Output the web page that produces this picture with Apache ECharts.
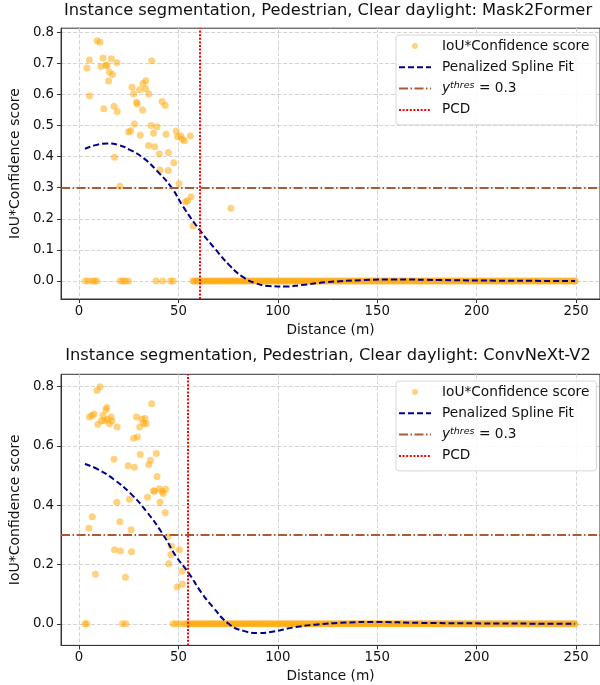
<!DOCTYPE html>
<html>
<head>
<meta charset="utf-8">
<script src="https://cdn.jsdelivr.net/npm/echarts@6/dist/echarts.min.js"></script>
<style>
  html, body { margin: 0; padding: 0; background: #fff; }
  #main { width: 600px; height: 685px; }
</style>
</head>
<body>
<div id="main"></div>
<script>
// ---- data ----
const xTicks = [0, 50, 100, 150, 200, 250];
const yTicksTop = [0.0, 0.1, 0.2, 0.3, 0.4, 0.5, 0.6, 0.7, 0.8];
const yTicksBottom = [0.0, 0.2, 0.4, 0.6, 0.8];
const thres = 0.3;

// Mask2Former: [distance, IoU*confidence]
const m2fScores = [
  [9.1, 0.773], [10.6, 0.768], [5.2, 0.711], [4.0, 0.685], [12.1, 0.717], [11.0, 0.690],
  [13.6, 0.694], [14.1, 0.693], [16.3, 0.715], [19.1, 0.702], [15.3, 0.672], [16.9, 0.664],
  [14.9, 0.643], [36.6, 0.708], [5.3, 0.596], [12.5, 0.554], [17.6, 0.562], [19.2, 0.545],
  [26.7, 0.623], [27.5, 0.601], [29.0, 0.575], [29.3, 0.569], [32.0, 0.550], [30.5, 0.615],
  [32.2, 0.635], [33.6, 0.644], [33.5, 0.618], [35.1, 0.601], [41.8, 0.577], [43.4, 0.564],
  [27.9, 0.505], [25.0, 0.479], [26.0, 0.483], [30.8, 0.469], [36.3, 0.500], [39.3, 0.496],
  [37.5, 0.475], [43.8, 0.472], [48.9, 0.482], [49.5, 0.464], [51.2, 0.466], [52.0, 0.456],
  [53.0, 0.451], [56.0, 0.466], [35.0, 0.436], [38.1, 0.432], [40.4, 0.408], [45.0, 0.413],
  [17.9, 0.398], [47.7, 0.380], [40.7, 0.357], [44.9, 0.355], [20.6, 0.305], [50.3, 0.313],
  [56.4, 0.271], [54.6, 0.258], [53.6, 0.255], [76.4, 0.234], [57.4, 0.177]
];
const m2fZeroDist = [
  3.2, 4.7, 6.8, 7.8, 9.0, 20.8, 22.0, 23.3, 24.9, 38.8, 42.1, 46.0, 47.4, 57.3,
  58, 59, 60, 61, 62, 63, 64, 65, 66, 67, 68, 69, 70, 71, 72, 73, 74, 75, 76, 77, 78, 79,
  80, 81, 82, 83, 84, 85, 86, 87, 88, 89, 90, 91, 92, 93, 94, 95, 96, 97, 98, 99,
  100, 101, 102, 103, 104, 105, 106, 107, 108, 109, 110, 111, 112, 113, 114, 115, 116, 117, 118, 119,
  120, 121, 122, 123, 124, 125, 126, 127, 128, 129, 130, 131, 132, 133, 134, 135, 136, 137, 138, 139,
  140, 141, 142, 143, 144, 145, 146, 147, 148, 149, 150, 151, 152, 153, 154, 155, 156, 157, 158, 159,
  160, 161, 162, 163, 164, 165, 166, 167, 168, 169, 170, 171, 172, 173, 174, 175, 176, 177, 178, 179,
  180, 181, 182, 183, 184, 185, 186, 187, 188, 189, 190, 191, 192, 193, 194, 195, 196, 197, 198, 199,
  200, 201, 202, 203, 204, 205, 206, 207, 208, 209, 210, 211, 212, 213, 214, 215, 216, 217, 218, 219,
  220, 221, 222, 223, 224, 225, 226, 227, 228, 229, 230, 231, 232, 233, 234, 235, 236, 237, 238, 239,
  240, 241, 242, 243, 244, 245, 246, 247, 248, 249, 249.5
];
const m2fSpline = [
  [3.0, 0.425], [8.5, 0.437], [14.3, 0.442], [19.5, 0.438], [25.9, 0.421], [32.5, 0.395],
  [39.1, 0.355], [46.6, 0.300], [52.4, 0.239], [60.7, 0.164], [68.9, 0.100], [75.6, 0.051],
  [82.2, 0.014], [88.8, -0.007], [95.4, -0.016], [103.7, -0.018], [112.0, -0.013], [124.5, -0.004],
  [143.5, 0.003], [158.7, 0.005], [181.6, 0.003], [210.0, 0.001], [249.5, 0.0]
];
const m2fPcd = 60.7;

// ConvNeXt-V2
const cnxScores = [
  [9.1, 0.787], [10.6, 0.800], [5.3, 0.698], [6.5, 0.703], [7.6, 0.708], [9.5, 0.673],
  [11.3, 0.685], [12.1, 0.704], [13.6, 0.722], [14.0, 0.730], [12.8, 0.685], [14.3, 0.690],
  [16.1, 0.698], [15.3, 0.675], [16.6, 0.684], [19.2, 0.664], [36.6, 0.743], [28.9, 0.698],
  [31.6, 0.691], [33.3, 0.693], [32.5, 0.677], [33.8, 0.675], [30.5, 0.664], [27.5, 0.626],
  [29.4, 0.630], [30.8, 0.571], [17.6, 0.555], [38.9, 0.575], [36.0, 0.552], [35.1, 0.537],
  [24.7, 0.533], [27.9, 0.528], [39.3, 0.497], [37.5, 0.449], [38.0, 0.447], [40.4, 0.456],
  [42.3, 0.440], [43.6, 0.454], [41.8, 0.447], [34.5, 0.427], [19.1, 0.410], [25.4, 0.420],
  [40.8, 0.410], [43.4, 0.375], [6.7, 0.361], [20.6, 0.344], [5.0, 0.322], [26.2, 0.317],
  [44.8, 0.294], [46.5, 0.262], [50.5, 0.250], [17.9, 0.250], [20.9, 0.246], [26.4, 0.243],
  [46.2, 0.233], [45.1, 0.203], [51.9, 0.177], [8.3, 0.167], [23.4, 0.157], [52.0, 0.134],
  [49.4, 0.124]
];
const cnxZeroDist = [
  3.0, 4.0, 21.9, 23.6, 47.3, 48.8, 50.5, 52.5,
  54, 55, 56, 57, 58, 59, 60, 61, 62, 63, 64, 65, 66, 67, 68, 69, 70, 71, 72, 73, 74, 75, 76, 77, 78, 79,
  80, 81, 82, 83, 84, 85, 86, 87, 88, 89, 90, 91, 92, 93, 94, 95, 96, 97, 98, 99,
  100, 101, 102, 103, 104, 105, 106, 107, 108, 109, 110, 111, 112, 113, 114, 115, 116, 117, 118, 119,
  120, 121, 122, 123, 124, 125, 126, 127, 128, 129, 130, 131, 132, 133, 134, 135, 136, 137, 138, 139,
  140, 141, 142, 143, 144, 145, 146, 147, 148, 149, 150, 151, 152, 153, 154, 155, 156, 157, 158, 159,
  160, 161, 162, 163, 164, 165, 166, 167, 168, 169, 170, 171, 172, 173, 174, 175, 176, 177, 178, 179,
  180, 181, 182, 183, 184, 185, 186, 187, 188, 189, 190, 191, 192, 193, 194, 195, 196, 197, 198, 199,
  200, 201, 202, 203, 204, 205, 206, 207, 208, 209, 210, 211, 212, 213, 214, 215, 216, 217, 218, 219,
  220, 221, 222, 223, 224, 225, 226, 227, 228, 229, 230, 231, 232, 233, 234, 235, 236, 237, 238, 239,
  240, 241, 242, 243, 244, 245, 246, 247, 248, 249, 249.5
];
const cnxSpline = [
  [3.0, 0.539], [9.3, 0.522], [17.6, 0.487], [25.9, 0.440], [34.1, 0.378], [42.4, 0.300],
  [49.0, 0.226], [54.9, 0.174], [61.8, 0.103], [67.3, 0.057], [75.1, 0.001], [82.7, -0.024],
  [90.3, -0.031], [97.9, -0.026], [107.4, -0.013], [118.8, -0.003], [134.0, 0.004], [149.2, 0.006],
  [172.0, 0.003], [210.0, 0.001], [249.5, 0.0]
];
const cnxPcd = 54.9;

// ---- chart ----
const FONT = 'DejaVu Sans';
const NAME_SCORE = 'IoU*Confidence score';
const NAME_SPLINE = 'Penalized Spline Fit';
const NAME_THRES = 'thres';
const NAME_PCD = 'PCD';

const splineStyle = { color: '#00008B', width: 2, type: [6, 3] };
const thresStyle = { color: '#A95B35', width: 1.9, type: [9, 2.5, 1.5, 2.5] };
const pcdStyle = { color: '#FF0000', width: 2, type: [2, 1.6] };
const gridLine = { show: true, lineStyle: { color: '#d4d4d4', width: 1, type: [4, 2] } };
const noDot = { opacity: 0 };

const panels = [
  {
    title: 'Instance segmentation, Pedestrian, Clear daylight: Mask2Former',
    scores: m2fScores, zeros: m2fZeroDist, spline: m2fSpline, pcd: m2fPcd,
    yMin: -0.058, yMax: 0.813, yTicks: yTicksTop,
    top: 28.2, height: 270.8, titleTop: 3, legendTop: 35
  },
  {
    title: 'Instance segmentation, Pedestrian, Clear daylight: ConvNeXt-V2',
    scores: cnxScores, zeros: cnxZeroDist, spline: cnxSpline, pcd: cnxPcd,
    yMin: -0.073, yMax: 0.842, yTicks: yTicksBottom,
    top: 374.3, height: 271.1, titleTop: 348, legendTop: 381
  }
];

const chart = echarts.init(document.getElementById('main'));

const option = {
  animation: false,
  backgroundColor: '#fff',
  textStyle: { fontFamily: FONT },
  title: panels.map(p => ({
    text: p.title,
    left: 328, top: p.titleTop, textAlign: 'center', padding: 0,
    textStyle: { fontFamily: FONT, fontSize: 16.3, fontWeight: 'normal', color: '#111' }
  })),
  grid: panels.map(p => ({
    left: 56.5, top: p.top, width: 545.5, height: p.height,
    show: true, borderColor: '#333', borderWidth: 1, backgroundColor: 'transparent'
  })),
  legend: panels.map(p => ({
    left: 396, top: p.legendTop, orient: 'vertical',
    data: [
      { name: NAME_SCORE },
      { name: NAME_SPLINE, itemStyle: noDot },
      { name: NAME_THRES, itemStyle: noDot },
      { name: NAME_PCD, itemStyle: noDot }
    ],
    itemWidth: 32, itemHeight: 6, itemGap: 5.3,
    padding: [3, 7, 7, 2],
    backgroundColor: 'rgba(255,255,255,0.85)', borderColor: '#d6d6d6', borderWidth: 1, borderRadius: 3,
    selectedMode: false,
    formatter: name => name === NAME_THRES ? '{i|y}{s|thres}{n| = 0.3}' : name,
    textStyle: {
      fontFamily: FONT, fontSize: 13.7, color: '#111', lineHeight: 16, padding: [0, 0, 0, 6],
      rich: {
        i: { fontFamily: FONT, fontSize: 13.7, fontStyle: 'italic', color: '#111', lineHeight: 16 },
        s: { fontFamily: FONT, fontSize: 9.5, fontStyle: 'italic', color: '#111', lineHeight: 6, verticalAlign: 'top' },
        n: { fontFamily: FONT, fontSize: 13.7, color: '#111', lineHeight: 16 }
      }
    }
  })),
  xAxis: panels.map((p, i) => ({
    type: 'value', gridIndex: i, min: -9, max: 262,
    name: 'Distance (m)', nameLocation: 'middle', nameGap: 24,
    nameTextStyle: { fontFamily: FONT, fontSize: 13.7, color: '#111' },
    axisLine: { show: true, onZero: false, lineStyle: { color: '#333' } },
    axisTick: { show: true, length: 4, customValues: xTicks, lineStyle: { color: '#333' } },
    axisLabel: { customValues: xTicks, margin: 6, fontFamily: FONT, fontSize: 13.3, color: '#111', formatter: v => String(v) },
    splitLine: gridLine
  })),
  yAxis: panels.map((p, i) => ({
    type: 'value', gridIndex: i, min: p.yMin, max: p.yMax,
    name: 'IoU*Confidence score', nameLocation: 'middle', nameGap: 30,
    nameTextStyle: { fontFamily: FONT, fontSize: 14, color: '#111' },
    axisLine: { show: true, onZero: false, lineStyle: { color: '#333' } },
    axisTick: { show: true, length: 4, customValues: p.yTicks, lineStyle: { color: '#333' } },
    axisLabel: { customValues: p.yTicks, margin: 7, fontFamily: FONT, fontSize: 13.3, color: '#111', formatter: v => v.toFixed(1) },
    splitLine: gridLine
  })),
  series: []
};

panels.forEach((p, i) => {
  option.series.push({
    name: NAME_SCORE, type: 'scatter', xAxisIndex: i, yAxisIndex: i,
    symbol: 'circle', symbolSize: 7,
    itemStyle: { color: '#FFA500', opacity: 0.5 },
    data: p.scores.concat(p.zeros.map(d => [d, 0]))
  });
  option.series.push({
    name: NAME_SPLINE, type: 'line', xAxisIndex: i, yAxisIndex: i,
    smooth: true, symbol: 'none', lineStyle: splineStyle, z: 3,
    data: p.spline
  });
  option.series.push({
    name: NAME_THRES, type: 'line', xAxisIndex: i, yAxisIndex: i,
    symbol: 'none', lineStyle: thresStyle, data: [],
    markLine: {
      silent: true, symbol: ['none', 'none'], label: { show: false },
      lineStyle: thresStyle, data: [{ yAxis: thres }]
    }
  });
  option.series.push({
    name: NAME_PCD, type: 'line', xAxisIndex: i, yAxisIndex: i,
    symbol: 'none', lineStyle: pcdStyle, data: [],
    markLine: {
      silent: true, symbol: ['none', 'none'], label: { show: false },
      lineStyle: pcdStyle, data: [{ xAxis: p.pcd }]
    }
  });
});

chart.setOption(option);
</script>
</body>
</html>
